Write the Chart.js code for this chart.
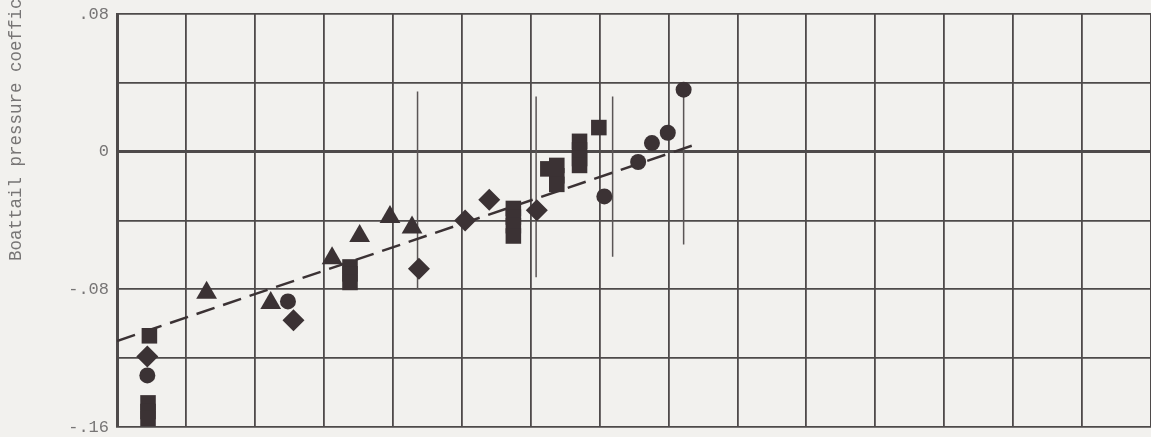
<!DOCTYPE html>
<html>
<head>
<meta charset="utf-8">
<title>Boattail pressure coefficient</title>
<script src="https://cdn.jsdelivr.net/npm/chart.js@4/dist/chart.umd.min.js"></script>
<style>
    html, body {
        margin: 0;
        padding: 0;
        background: #f2f1ee;
    }
    #chart_wrap {
        position: relative;
        width: 1151px;
        height: 437px;
    }
</style>
</head>
<body>
<div id="chart_wrap"><canvas id="boattail_chart"></canvas></div>
<script>
    "use strict";

    // values, x in grid units
    var circle_x = [0.44, 2.48, 7.07, 7.56, 7.76, 7.99, 8.22];
    var circle_y = [-0.130, -0.087, -0.026, -0.006, 0.005, 0.011, 0.036];

    var square_x = [0.47, 0.45, 0.45, 0.45, 3.38, 3.38, 3.38, 5.75, 5.75, 5.75, 5.75, 6.25, 6.38, 6.38, 6.38, 6.71, 6.71, 6.71, 6.71, 6.99];
    var square_y = [-0.107, -0.146, -0.151, -0.155, -0.067, -0.071, -0.076, -0.033, -0.038, -0.043, -0.049, -0.010, -0.008, -0.014, -0.019, 0.006, 0.001, -0.004, -0.008, 0.014];

    var diamond_x = [0.44, 2.56, 4.38, 5.05, 5.40, 6.09];
    var diamond_y = [-0.119, -0.098, -0.068, -0.040, -0.028, -0.034];

    var triangle_x = [1.30, 2.23, 3.12, 3.52, 3.96, 4.28];
    var triangle_y = [-0.082, -0.088, -0.062, -0.049, -0.038, -0.044];

    var range_x = [4.36, 6.08, 7.19, 8.22];
    var range_top = [0.035, 0.032, 0.032, 0.036];
    var range_bottom = [-0.080, -0.073, -0.061, -0.054];

    var fit_x = [0, 8.38];
    var fit_y = [-0.110, 0.004];

    var y_title = "Boattail pressure coefficient, Cp,b";

    var ink = "#3b3234";
    var grid_color = "#4e4a4a";
    var text_color = "#777575";
    var mono = "'Liberation Mono', 'DejaVu Sans Mono', monospace";

    function toPoints(xs, ys) {
        var pts = [];
        for (var i = 0; i < xs.length; i++) {
            pts.push({x: xs[i], y: ys[i]});
        }
        return pts;
    }

    function markerSet(xs, ys, style, radius) {
        return {
            data: toPoints(xs, ys),
            pointStyle: style,
            pointRadius: radius,
            pointHoverRadius: radius,
            backgroundColor: ink,
            borderColor: ink,
            borderWidth: 0,
            showLine: false,
            order: 1,
        };
    }

    var datasets = [];
    for (var i = 0; i < range_x.length; i++) {
        datasets.push({
            data: [{x: range_x[i], y: range_top[i]}, {x: range_x[i], y: range_bottom[i]}],
            showLine: true,
            borderColor: "#5a5555",
            borderWidth: 1.5,
            pointRadius: 0,
            order: 3,
        });
    }
    datasets.push({
        data: toPoints(fit_x, fit_y),
        showLine: true,
        borderColor: ink,
        borderWidth: 2.5,
        borderDash: [19, 9],
        pointRadius: 0,
        order: 2,
    });
    datasets.push(markerSet(circle_x, circle_y, "circle", 8));
    datasets.push(markerSet(square_x, square_y, "rect", 11));
    datasets.push(markerSet(diamond_x, diamond_y, "rectRot", 11));
    datasets.push(markerSet(triangle_x, triangle_y, "triangle", 12));

    // rotated axis caption, cut off at the top like the scan
    var sideTitle = {
        id: "sideTitle",
        afterDraw: function (chart) {
            var ctx = chart.ctx;
            ctx.save();
            ctx.translate(16, 261);
            ctx.rotate(-Math.PI / 2);
            ctx.font = "17.5px " + mono;
            ctx.fillStyle = text_color;
            ctx.textAlign = "left";
            ctx.textBaseline = "middle";
            ctx.fillText(y_title, 0, 0);
            ctx.restore();
        },
    };

    new Chart(document.getElementById("boattail_chart"), {
        type: "scatter",
        data: {datasets: datasets},
        plugins: [sideTitle],
        options: {
            responsive: true,
            maintainAspectRatio: false,
            animation: false,
            layout: {
                autoPadding: false,
                padding: {left: 0, top: 14, right: 0, bottom: 10},
            },
            plugins: {
                legend: {display: false},
                tooltip: {enabled: false},
            },
            scales: {
                x: {
                    type: "linear",
                    min: 0,
                    max: 15,
                    ticks: {display: false, stepSize: 1},
                    grid: {color: grid_color, lineWidth: 1.8, drawTicks: false},
                    border: {display: false},
                },
                y: {
                    type: "linear",
                    min: -0.16,
                    max: 0.08,
                    afterFit: function (scale) {
                        scale.width = 117;
                    },
                    ticks: {
                        stepSize: 0.04,
                        padding: 8,
                        color: text_color,
                        // tiny line height so the labels do not push the plot in
                        font: {family: mono, size: 17, lineHeight: 0.1},
                        callback: function (v) {
                            var r = Math.round(v * 100);
                            if (r % 8 !== 0) {
                                return "";
                            }
                            if (r === 0) {
                                return "0";
                            }
                            var s = (Math.abs(r) < 10 ? ".0" : ".") + Math.abs(r);
                            return r < 0 ? "-" + s : s;
                        },
                    },
                    grid: {
                        color: grid_color,
                        drawTicks: false,
                        lineWidth: function (c) {
                            return Math.round(c.tick.value * 100) === 0 ? 3 : 1.8;
                        },
                    },
                    border: {color: grid_color, width: 3},
                },
            },
        },
    });
</script>
</body>
</html>
